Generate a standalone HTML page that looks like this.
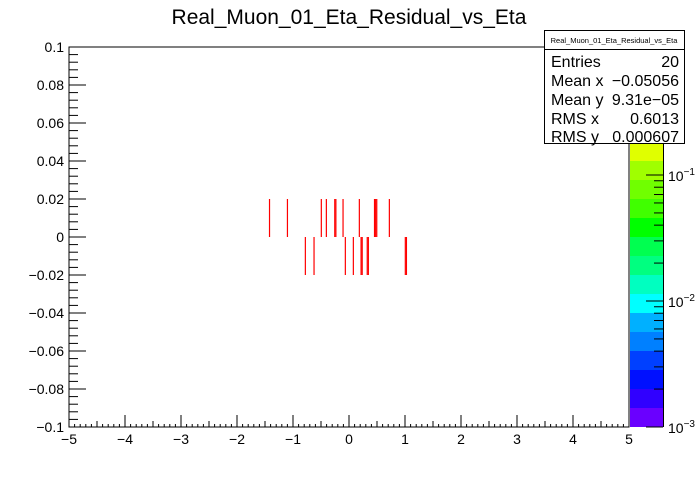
<!DOCTYPE html>
<html><head><meta charset="utf-8"><style>
body{margin:0;background:#fff;}
svg text{font-family:"Liberation Sans",sans-serif;}
</style></head><body>
<svg id="c" width="698" height="474" xmlns="http://www.w3.org/2000/svg">
<rect width="698" height="474" fill="#fff"/>
<text x="349" y="24" font-size="21" text-anchor="middle">Real_Muon_01_Eta_Residual_vs_Eta</text>
<g id="marks"></g>
<g id="pal"></g>
<rect x="69" y="47" width="560" height="380" fill="none" stroke="#000" stroke-width="1"/>
<g id="axes"></g>
<g>
<rect x="544.5" y="30.5" width="140" height="113" fill="#fff" stroke="#000"/>
<line x1="544.5" y1="49.5" x2="684.5" y2="49.5" stroke="#000"/>
<text x="614" y="43" font-size="7.5" text-anchor="middle">Real_Muon_01_Eta_Residual_vs_Eta</text>
<g font-size="16">
<text x="551" y="67">Entries</text><text x="679" y="67" text-anchor="end">20</text>
<text x="551" y="86">Mean x</text><text x="679" y="86" text-anchor="end">−0.05056</text>
<text x="551" y="105">Mean y</text><text x="679" y="105" text-anchor="end">9.31e−05</text>
<text x="551" y="124">RMS x</text><text x="679" y="124" text-anchor="end">0.6013</text>
<text x="551" y="142">RMS y</text><text x="679" y="142" text-anchor="end">0.000607</text>
</g></g>
</svg>
<script>
const etaValues=[-1.42,-1.10,-0.495,-0.405,-0.255,-0.235,-0.107,0.184,0.455,0.475,0.495,0.72,-0.78,-0.625,-0.066,0.077,0.215,0.235,0.325,0.345,1.005,1.025];
const residualValues=[0.01,0.01,0.01,0.01,0.01,0.01,0.01,0.01,0.01,0.01,0.01,0.01,-0.01,-0.01,-0.01,-0.01,-0.01,-0.01,-0.01,-0.01,-0.01,-0.01];
const xTicks=[-5,-4,-3,-2,-1,0,1,2,3,4,5];
const yTicks=[-0.1,-0.08,-0.06,-0.04,-0.02,0,0.02,0.04,0.06,0.08,0.1];
const zTickLabels=["-3","-2","-1"];
const paletteColors=["#6a00ff","#3000ff","#0010ff","#0040ff","#0080ff","#00b0ff","#00ffff","#00ffc0","#00ff80","#00ff50","#00ff00","#40ff00","#70ff00","#a0ff00","#e0ff00","#f0ff00","#ffff00","#ffff00","#ffff00","#ffff00"];
const NS="http://www.w3.org/2000/svg";
const X=v=>69+(v+5)*56, Y=v=>237-v*1900;
const binX=0.02, binY=0.02;
function mk(t,a,p){const e=document.createElementNS(NS,t);for(const k in a)e.setAttribute(k,a[k]);p.appendChild(e);return e;}
const marks=document.getElementById('marks');
etaValues.forEach((e,i)=>{
 const y0=Math.floor(residualValues[i]/binY)*binY;
 const x0=X(e-binX/2), w=Math.max(1.2,X(e+binX/2)-x0);
 const r=mk('rect',{x:x0,y:Y(y0+binY),width:w,height:Y(y0)-Y(y0+binY),fill:'#ff0000'},marks);
 
 
});
const pal=document.getElementById('pal');
paletteColors.forEach((c,i)=>{
 const r=mk('rect',{x:630,y:427-(i+1)*19,width:33,height:19,fill:c},pal);
 
 
});
const ax=document.getElementById('axes');
xTicks.forEach((t,i)=>{
 mk('line',{x1:X(t),y1:427,x2:X(t),y2:415,stroke:'#000'},ax);
 const tx=mk('text',{x:X(t),y:444,'font-size':14,'text-anchor':'middle'},ax);
 tx.textContent=t===0?'0':String(t).replace('-','−');
 
 
 if(i<xTicks.length-1)for(let k=1;k<10;k++){const v=t+k*0.1;mk('line',{x1:X(v),y1:427,x2:X(v),y2:k==5?421:424,stroke:'#000'},ax);}
});
yTicks.forEach((t,i)=>{
 mk('line',{x1:69,y1:Y(t),x2:86,y2:Y(t),stroke:'#000'},ax);
 const tx=mk('text',{x:64,y:Y(t)+5,'font-size':14,'text-anchor':'end'},ax);
 tx.textContent=t===0?'0':String(t).replace('-','−');
 
 
 if(i<yTicks.length-1)for(let k=1;k<5;k++){const v=t+k*0.004;mk('line',{x1:69,y1:Y(v),x2:78,y2:Y(v),stroke:'#000'},ax);}
});
mk('line',{x1:663.5,y1:47,x2:663.5,y2:427,stroke:'#000'},ax);
zTickLabels.forEach((l,i)=>{
 const y=427-i*126;
 mk('line',{x1:663,y1:y,x2:646,y2:y,stroke:'#000'},ax);
 const tx=mk('text',{x:668,y:y+6,'font-size':14},ax);
 tx.innerHTML='10<tspan dy="-6" font-size="10">'+l.replace('-','−')+'</tspan>';
 
 
 for(let k=2;k<10;k++){const yy=y-Math.log10(k)*126;if(yy>=47)mk('line',{x1:663,y1:yy,x2:654,y2:yy,stroke:'#000'},ax);}
});
</script>
</body></html>
